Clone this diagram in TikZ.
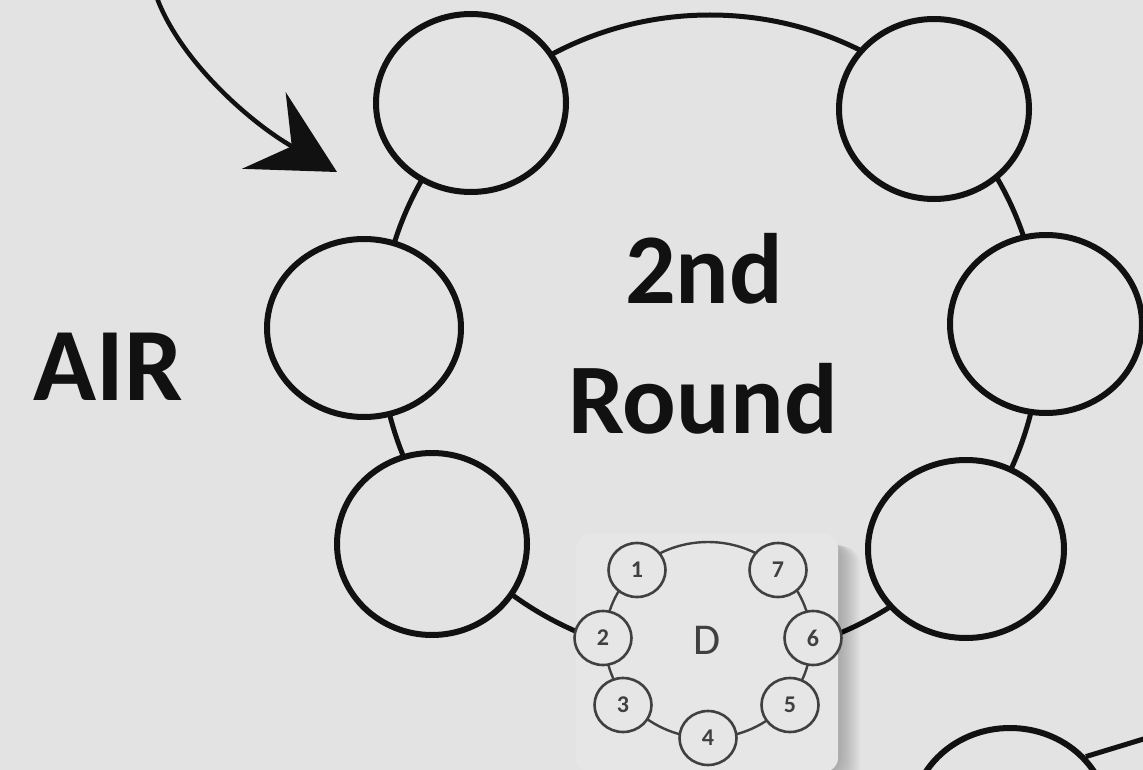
\documentclass[tikz,border=0pt]{standalone}
\usepackage{fontspec}
\setmainfont{Carlito}
\usetikzlibrary{shapes.geometric,arrows.meta}
\definecolor{bg}{HTML}{E3E3E3}
\definecolor{patch}{HTML}{E6E6E6}
\definecolor{ink}{HTML}{111111}
\definecolor{sgray}{HTML}{404040}
\tikzset{
  seat/.style={ellipse, draw=ink, line width=6pt, fill=bg, inner sep=0pt},
  ringline/.style={draw=ink, line width=5pt},
  tablering/.style={ellipse, draw=ink, line width=5pt, inner sep=0pt},
  miniseat/.style={ellipse, draw=sgray, line width=2.6pt, fill=patch, inner sep=0pt,
    minimum width=57pt, minimum height=54pt, text=sgray,
    font=\bfseries\fontsize{24}{26}\selectfont},
  minitable/.style={ellipse, draw=sgray, line width=2.4pt, inner sep=0pt},
  bigtext/.style={font=\bfseries\fontsize{100}{120}\selectfont, text=ink, anchor=base, inner sep=0pt},
}
\begin{document}
\begin{tikzpicture}[x=1pt,y=-1pt]
\fill[bg] (0,0) rectangle (1143,770);
\useasboundingbox (0,0) rectangle (1143,770);
\clip (0,0) rectangle (1143,770);

% main table ring
\node[tablering, minimum width=660pt, minimum height=644pt] (table) at (710,337) {};

% seats
\node[seat, minimum width=190pt, minimum height=178pt] (s1) at (471,103) {};
\node[seat, minimum width=190pt, minimum height=180pt] (s2) at (934,109) {};
\node[seat, minimum width=194pt, minimum height=178pt] (s3) at (364,328) {};
\node[seat, minimum width=192pt, minimum height=178pt] (s4) at (1046,324) {};
\node[seat, minimum width=190pt, minimum height=182pt] (s5) at (432,544) {};
\node[seat, minimum width=196pt, minimum height=178pt] (s6) at (966,549) {};

% partial next table
\node[seat, minimum width=196pt, minimum height=180pt] (s7) at (1010,818) {};
\coordinate (t2r) at (1160,734);
\draw[ringline] (s7.39) -- (t2r);

% D inset with soft shadow (right and bottom)
\foreach \i in {1,...,16} {
  \fill[black, opacity=0.014, rounded corners=18pt]
    (580+\i*0.4, 540+\i*0.4) rectangle (838+\i*1.4, 772+\i);
}
\fill[patch, rounded corners=14pt] (576,534) rectangle (838,772);
\node[minitable, minimum width=206pt, minimum height=196pt] (dtable) at (708,640) {};
\node[font=\fontsize{44}{46}\selectfont, text=sgray] (dlabel) at (707,640) {D};
\node[miniseat] (m1) at (637,570) {1};
\node[miniseat] (m2) at (603,638) {2};
\node[miniseat] (m3) at (623,705) {3};
\node[miniseat] (m4) at (708,738) {4};
\node[miniseat] (m5) at (790,705) {5};
\node[miniseat] (m6) at (813,638) {6};
\node[miniseat] (m7) at (778,570) {7};

% arrow
\coordinate (arrowstart) at (157,-2);
\coordinate (arrowtip) at (337,172);
\draw[draw=ink, line width=4.5pt, -{Stealth[length=84pt, width=88pt, inset=32pt]}]
  (arrowstart) .. controls (180,60) and (249,122) .. (arrowtip);

% texts
\node[bigtext, font=\bfseries\fontsize{104}{120}\selectfont] (air) at (108,400) {AIR};
\node[bigtext] (second) at (704,303) {2nd};
\node[bigtext] (round) at (703,433) {Round};
\end{tikzpicture}
\end{document}
